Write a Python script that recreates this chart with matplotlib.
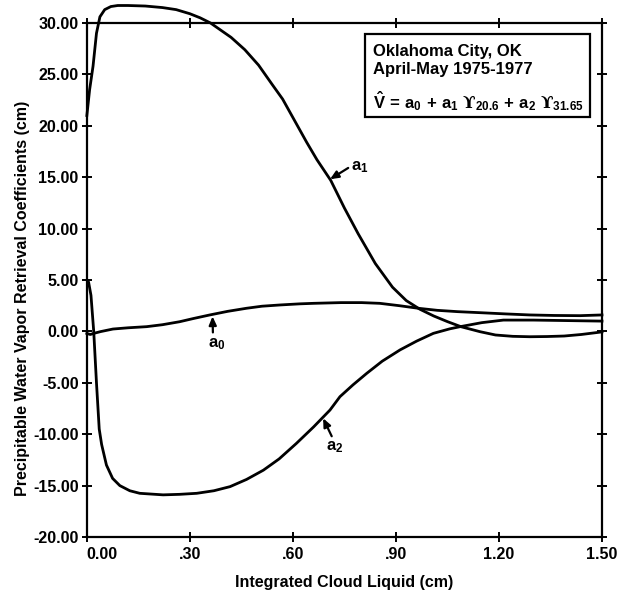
import matplotlib
matplotlib.use('Agg')
import matplotlib.pyplot as plt
from matplotlib.patches import Rectangle

plt.rcParams['font.family'] = ['Liberation Sans', 'DejaVu Sans']
plt.rcParams['font.weight'] = 'bold'
plt.rcParams['mathtext.fontset'] = 'custom'
plt.rcParams['mathtext.rm'] = 'Liberation Sans:bold'
plt.rcParams['mathtext.it'] = 'Liberation Sans:bold'
plt.rcParams['mathtext.bf'] = 'Liberation Sans:bold'
plt.rcParams['mathtext.sf'] = 'DejaVu Serif:bold'

# coefficient curves
a1_x = [0.0, 0.008, 0.018, 0.028, 0.038, 0.052, 0.07, 0.09, 0.12, 0.17, 0.22, 0.26,
        0.30, 0.33, 0.36, 0.39, 0.42, 0.46, 0.50, 0.54, 0.57, 0.60, 0.64, 0.67, 0.71,
        0.75, 0.79, 0.84, 0.89, 0.93, 0.97, 1.01, 1.05, 1.09, 1.145, 1.19, 1.24, 1.29,
        1.34, 1.39, 1.44, 1.50]
a1_y = [21.0, 23.5, 25.8, 29.0, 30.6, 31.3, 31.6, 31.7, 31.7, 31.65, 31.5, 31.3,
        30.9, 30.5, 30.0, 29.3, 28.6, 27.4, 25.9, 24.0, 22.6, 20.8, 18.4, 16.7, 14.7,
        12.0, 9.5, 6.6, 4.3, 3.0, 2.15, 1.5, 0.95, 0.45, -0.03, -0.35, -0.48, -0.52,
        -0.5, -0.45, -0.3, -0.05]

a0_x = [0.0, 0.01, 0.025, 0.04, 0.076, 0.12, 0.174, 0.22, 0.27, 0.31, 0.358, 0.41,
        0.465, 0.51, 0.562, 0.62, 0.66, 0.74, 0.80, 0.853, 0.91, 0.965, 1.02, 1.08,
        1.145, 1.22, 1.29, 1.36, 1.436, 1.50]
a0_y = [-0.2, -0.3, -0.15, -0.02, 0.23, 0.35, 0.46, 0.65, 0.94, 1.25, 1.6, 1.95,
        2.25, 2.45, 2.57, 2.68, 2.73, 2.8, 2.8, 2.73, 2.5, 2.25, 2.05, 1.92,
        1.82, 1.7, 1.6, 1.55, 1.53, 1.6]

a2_x = [0.0, 0.005, 0.012, 0.02, 0.028, 0.036, 0.043, 0.057, 0.075, 0.096, 0.125,
        0.154, 0.222, 0.27, 0.32, 0.37, 0.417, 0.465, 0.514, 0.56, 0.61, 0.66, 0.708,
        0.737, 0.775, 0.815, 0.86, 0.912, 0.96, 1.009, 1.057, 1.087, 1.15, 1.213,
        1.30, 1.40, 1.50]
a2_y = [5.0, 4.8, 3.5, 0.0, -5.0, -9.5, -11.0, -13.0, -14.3, -15.0, -15.5,
        -15.75, -15.9, -15.85, -15.75, -15.5, -15.1, -14.4, -13.5, -12.4, -10.9, -9.3, -7.65,
        -6.35, -5.2, -4.08, -2.9, -1.8, -0.95, -0.19, 0.25, 0.46, 0.85, 1.1,
        1.1, 1.05, 1.0]

x_ticks = [0.0, 0.3, 0.6, 0.9, 1.2, 1.5]
x_tick_labels = ['0.00', '.30', '.60', '.90', '1.20', '1.50']
y_ticks = [30, 25, 20, 15, 10, 5, 0, -5, -10, -15, -20]
y_tick_labels = ['30.00', '25.00', '20.00', '15.00', '10.00', '5.00', '0.00',
                 '-5.00', '-10.00', '-15.00', '-20.00']

fig = plt.figure(figsize=(6.34, 5.97), dpi=100)
ax = fig.add_axes([0.137, 0.1005, 0.8125, 0.861])

for xs, ys in [(a1_x, a1_y), (a0_x, a0_y), (a2_x, a2_y)]:
    ax.plot(xs, ys, color='black', lw=2.0, clip_on=False, solid_joinstyle='round')

ax.set_xlim(0, 1.5)
ax.set_ylim(-20, 30)
ax.set_xticks(x_ticks)
ax.set_xticklabels(x_tick_labels)
ax.set_yticks(y_ticks)
ax.set_yticklabels(y_tick_labels)
ax.tick_params(direction='inout', length=7, width=1.4, top=True, right=True,
               labelsize=11.5)
ax.tick_params(axis='x', pad=4)
ax.tick_params(axis='y', pad=2.5)
ax.get_xticklabels()[0].set_horizontalalignment('left')
for s in ax.spines.values():
    s.set_linewidth(1.6)

# curve labels
arrow = dict(arrowstyle='-|>,head_length=0.5,head_width=0.22', color='black', lw=1.6,
             shrinkA=0, shrinkB=0)
ax.annotate('', xy=(0.708, 14.8), xytext=(0.761, 15.9), arrowprops=arrow)
ax.text(0.768, 16.0, r'$a_1$', fontsize=12, va='center', ha='left')
ax.annotate('', xy=(0.366, 1.46), xytext=(0.367, -0.1), arrowprops=arrow)
ax.text(0.377, -1.2, r'$a_0$', fontsize=12, va='center', ha='center')
ax.annotate('', xy=(0.688, -8.45), xytext=(0.713, -10.2), arrowprops=arrow)
ax.text(0.722, -11.3, r'$a_2$', fontsize=12, va='center', ha='center')

# station box
ax.add_patch(Rectangle((0.54, 0.818), 0.437, 0.161, transform=ax.transAxes,
                       fill=False, lw=1.6, color='black'))
ax.text(0.555, 0.944, 'Oklahoma City, OK', transform=ax.transAxes, fontsize=12,
        va='center', ha='left')
ax.text(0.555, 0.909, 'April-May 1975-1977', transform=ax.transAxes, fontsize=12,
        va='center', ha='left')
ax.text(0.555, 0.848,
        r'$\hat{V}\,=\,a_0\,+\,a_1\ \mathsf{ϒ}_{20.6}\,+\,a_2\ \mathsf{ϒ}_{31.65}$',
        transform=ax.transAxes, fontsize=12, va='center', ha='left')

fig.text(0.035, 0.5, 'Precipitable Water Vapor Retrieval Coefficients (cm)',
         rotation=90, ha='center', va='center', fontsize=11.5)
fig.text(0.543, 0.025, 'Integrated Cloud Liquid (cm)', ha='center', va='center',
         fontsize=11.5)

fig.savefig('out.png', dpi=100)
plt.close()
